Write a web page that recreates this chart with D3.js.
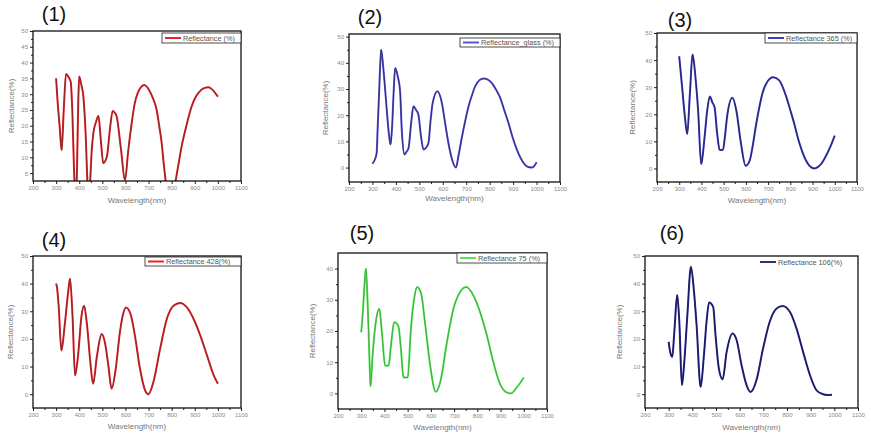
<!DOCTYPE html>
<html>
<head>
<meta charset="utf-8">
<script src="https://cdn.jsdelivr.net/npm/d3@7"></script>
<style>
  body { margin: 0; background: #fff; }
  svg { display: block; font-family: "Liberation Sans", Arial, sans-serif; }
  .tick text { fill: #888; font-size: 6px; }
  .tick line { stroke: #222; }
</style>
</head>
<body>
<div id="okvir"></div>
<script>
// 1. Podaci (ocitano sa slike)

const xTicks = [200, 300, 400, 500, 600, 700, 800, 900, 1000, 1100]
const yTicks1 = [5, 10, 15, 20, 25, 30, 35, 40, 45, 50]
const yTicks = [0, 10, 20, 30, 40, 50]
const yTicks5 = [0, 10, 20, 30, 40]

const naslovi = ["(1)", "(2)", "(3)", "(4)", "(5)", "(6)"]
const legende = ["Reflectance (%)", "Reflectance_glass (%)", "Reflectance 365 (%)",
  "Reflectance 428(%)", "Reflectance 75 (%)", "Reflectance 106(%)"]

// [valna duljina nm, refleksija %]
const spektar1 = [[300,35],[305,29.2],[315,20],[324,12.3],[333,25],[343,36.4],[353,35.5],[363,33.9],[370,25],[378,5],[384,-4],[390,5],[396,28],[400,35.6],[409,33],[418,29.2],[428,17],[435,3],[441,-4],[447,2],[454,12],[461,17.6],[472,21],[483,23.1],[494,15],[504,8.1],[512,8.8],[521,10.7],[533,19],[545,24.7],[553,24.2],[562,22.9],[580,13],[598,2.8],[612,12],[627,20.8],[640,27],[653,30.3],[668,32.3],[682,32.9],[694,32.2],[706,30.8],[720,28.5],[735,25],[746,20],[757,14.4],[765,8.5],[774,2.5],[795,-8],[817,2.5],[830,8],[843,13.4],[857,18],[872,22.4],[886,26],[901,28.7],[915,30.3],[930,31.5],[944,32],[958,32.2],[970,31.8],[980,31.1],[992,30],[1000,29.2]]

const spektar2 = [[300,1.5],[310,3],[318,5.6],[322,14.5],[329,29.8],[337,45],[347,37.4],[354,30],[361,22.1],[370,13],[377,8.8],[384,15.8],[390,28],[397,38],[408,34.8],[418,29.1],[425,14.5],[437,5],[445,6],[454,7.5],[465,17],[475,23.4],[486,22],[496,20.2],[507,12],[518,6.9],[528,7.5],[539,9.4],[548,18],[557,24.7],[577,29.1],[596,24.7],[610,17],[624,9.4],[640,3],[656,0],[668,5],[681,11.3],[695,17.5],[710,23.4],[724,27.5],[738,31],[756,33.3],[774,34],[792,33.6],[809,32.3],[827,29.8],[845,26.6],[862,22],[880,17.1],[898,11.5],[916,6.9],[933,3.5],[951,1.1],[965,0.2],[980,0],[990,0.6],[1000,2]]

const spektar3 = [[300,41.4],[313,30],[325,19.5],[336,12.7],[348,27.6],[360,42.1],[373,33.7],[385,21.4],[399,1.6],[414,11.5],[426,21.4],[438,26.6],[449,24.4],[459,22.6],[471,12.7],[482,6.8],[497,6.9],[506,12],[516,19.5],[539,26.1],[557,21.4],[576,10.3],[599,1],[617,2.9],[630,8],[644,15.2],[659,22],[674,27.6],[697,32.1],[723,33.7],[750,32.5],[780,26.9],[800,21.5],[818,16.4],[835,11],[852,6.6],[870,3],[886,1],[908,0],[925,0.6],[938,1.6],[968,5.9],[985,9],[1000,12.1]]

const spektar4 = [[300,40],[304,38.6],[311,32],[323,15.8],[337,24.8],[352,36.8],[360,41.8],[371,28.4],[382,6.8],[395,14],[410,28.4],[421,32],[434,24.8],[448,11.6],[460,3.8],[477,14],[497,21.8],[511,18.8],[526,10.4],[540,2],[558,9.2],[576,22.4],[590,29],[602,31.4],[622,29],[641,21.2],[663,9.2],[685,1.4],[699,0],[721,4.4],[750,16.4],[779,27.2],[808,32],[837,33],[866,31.4],[895,27.2],[924,21.2],[953,14],[982,6.8],[1000,3.8]]

const spektar5 = [[300,19.6],[306,25],[313,33.6],[320,40],[327,30.4],[335,12.1],[340,2.3],[349,12.1],[360,21.2],[378,27.1],[389,19.6],[403,8.9],[418,8.9],[428,15.3],[442,22.8],[452,22.5],[461,21.2],[471,14.3],[482,5.1],[500,5.1],[514,20.7],[528,30.4],[541,34.1],[558,32],[576,21.8],[597,8.9],[621,0.5],[640,3.5],[669,16.4],[697,27.1],[726,32.5],[752,34.1],[783,31.4],[812,26],[841,18.6],[869,10],[898,3],[927,0.3],[944,0],[970,1.9],[1000,5.1]]

const spektar6 = [[300,18.9],[305,15.9],[315,13.5],[324,22.6],[336,35.9],[345,26.2],[356,3.3],[366,11.7],[379,28.6],[394,46.1],[407,37.1],[418,25],[435,2.6],[449,14.1],[460,26.2],[471,33.2],[488,31.6],[498,21.4],[512,9.3],[528,5.4],[545,15.3],[570,22],[587,19.6],[608,10.5],[629,3.3],[646,0.8],[671,5.1],[699,16.6],[727,26.2],[756,31],[781,31.9],[812,29.8],[840,23.8],[868,15.3],[897,6.9],[925,1.4],[953,0],[972,-0.3],[990,-0.2]]

const spektri = [spektar1, spektar2, spektar3, spektar4, spektar5, spektar6]
const yOznake = [yTicks1, yTicks, yTicks, yTicks, yTicks5, yTicks]

// 2. Raspored panela

const raspored = [
  { box: [33, 31, 241, 181], yDomena: [2.5, 50], naslov: [54, 14], legenda: [162, 33, 79, 10], yOs: 11, xOs: 200, boja: "#e3262b", jezgra: "#7a2626", okvir: true },
  { box: [349, 34, 560, 182], yDomena: [-5.5, 51], naslov: [370, 17], legenda: [460, 38, 100, 9], yOs: 325, xOs: 198, boja: "#5a55d8", jezgra: "#23235e", okvir: true },
  { box: [657, 33, 857, 182], yDomena: [-5, 50], naslov: [680, 20], legenda: [765, 33, 92, 10], yOs: 632, xOs: 200, boja: "#3d3dc0", jezgra: "#202050", okvir: true },
  { box: [33, 256, 241, 408], yDomena: [-5, 50], naslov: [54, 240], legenda: [145, 257, 96, 9], yOs: 10, xOs: 426, boja: "#e3262b", jezgra: "#7a2626", okvir: true },
  { box: [338, 253, 547, 409], yDomena: [-5, 45], naslov: [362, 233], legenda: [457, 253, 90, 10], yOs: 312, xOs: 427, boja: "#55e855", jezgra: "#3c9a3c", okvir: true },
  { box: [645, 256, 858, 408], yDomena: [-5, 50], naslov: [672, 233], legenda: [757, 257, 101, 10], yOs: 619, xOs: 427, boja: "#2e2e90", jezgra: "#12124a", okvir: false },
]

// 3. Crtanje

const okvir = d3.select("#okvir")
  .append("svg")
    .attr("width", 871)
    .attr("height", 441)

raspored.forEach((p, i) => {
  const [x0, y0, x1, y1] = p.box

  const xSkala = d3.scaleLinear()
    .domain([xTicks[0], xTicks[xTicks.length - 1]])
    .range([x0, x1])

  const ySkala = d3.scaleLinear()
    .domain(p.yDomena)
    .range([y1, y0])

  const g = okvir.append("g")

  g.append("clipPath")
      .attr("id", "clip" + i)
    .append("rect")
      .attr("x", x0)
      .attr("y", y0)
      .attr("width", x1 - x0)
      .attr("height", y1 - y0)

  // osi - glavne i sporedne crtice
  const yT = yOznake[i]
  const korak = yT[1] - yT[0]
  const yMinor = yT.map(t => t + korak / 2).filter(t => t < p.yDomena[1])
  const xMinor = xTicks.slice(0, -1).map(t => t + 50)

  g.append("g")
    .attr("transform", `translate(0,${y1})`)
    .call(d3.axisBottom(xSkala).tickValues(xMinor).tickSize(2).tickFormat(""))
    .call(a => a.select(".domain").remove())

  g.append("g")
    .attr("transform", `translate(0,${y1})`)
    .call(d3.axisBottom(xSkala).tickValues(xTicks).tickSize(3).tickPadding(1.5).tickFormat(d3.format("d")))
    .call(a => a.select(".domain").remove())

  g.append("g")
    .attr("transform", `translate(${x0},0)`)
    .call(d3.axisLeft(ySkala).tickValues(yMinor).tickSize(2).tickFormat(""))
    .call(a => a.select(".domain").remove())

  g.append("g")
    .attr("transform", `translate(${x0},0)`)
    .call(d3.axisLeft(ySkala).tickValues(yT).tickSize(3).tickPadding(2).tickFormat(d3.format("d")))
    .call(a => a.select(".domain").remove())

  // krivulja
  const linija = d3.line()
    .x(d => xSkala(d[0]))
    .y(d => ySkala(d[1]))
    .curve(d3.curveMonotoneX)

  const crt = g.append("g").attr("clip-path", `url(#clip${i})`)
  crt.append("path")
      .datum(spektri[i])
      .attr("d", linija)
      .attr("fill", "none")
      .attr("stroke", p.boja)
      .attr("stroke-width", 2)
      .attr("stroke-linejoin", "round")
  crt.append("path")
      .datum(spektri[i])
      .attr("d", linija)
      .attr("fill", "none")
      .attr("stroke", p.jezgra)
      .attr("stroke-width", 0.8)
      .attr("stroke-linejoin", "round")

  // okvir grafa
  g.append("rect")
      .attr("x", x0)
      .attr("y", y0)
      .attr("width", x1 - x0)
      .attr("height", y1 - y0)
      .attr("fill", "none")
      .attr("stroke", "#111")
      .attr("stroke-width", 1.3)

  // legenda
  const [lx, ly, lw, lh] = p.legenda
  if (p.okvir) {
    g.append("rect")
        .attr("x", lx)
        .attr("y", ly)
        .attr("width", lw)
        .attr("height", lh)
        .attr("fill", "#fff")
        .attr("stroke", "#222")
        .attr("stroke-width", 0.8)
  }
  g.append("line")
      .attr("x1", lx + 3)
      .attr("x2", lx + 19)
      .attr("y1", ly + lh / 2)
      .attr("y2", ly + lh / 2)
      .attr("stroke", p.boja)
      .attr("stroke-width", 2)
  g.append("text")
      .attr("x", lx + 21)
      .attr("y", ly + lh / 2)
      .attr("dominant-baseline", "central")
      .attr("font-size", 7.3)
      .attr("fill", "#555")
      .text(legende[i])

  // natpisi
  g.append("text")
      .attr("x", p.naslov[0])
      .attr("y", p.naslov[1])
      .attr("text-anchor", "middle")
      .attr("dominant-baseline", "central")
      .attr("font-size", 20)
      .attr("fill", "#111")
      .text(naslovi[i])

  g.append("text")
      .attr("x", (x0 + x1) / 2)
      .attr("y", p.xOs)
      .attr("text-anchor", "middle")
      .attr("dominant-baseline", "central")
      .attr("font-size", 8)
      .attr("fill", "#777")
      .text("Wavelength(nm)")

  g.append("text")
      .attr("transform", `translate(${p.yOs},${(y0 + y1) / 2}) rotate(-90)`)
      .attr("text-anchor", "middle")
      .attr("dominant-baseline", "central")
      .attr("font-size", 8)
      .attr("fill", "#777")
      .text("Reflectance(%)")
})
</script>
</body>
</html>
